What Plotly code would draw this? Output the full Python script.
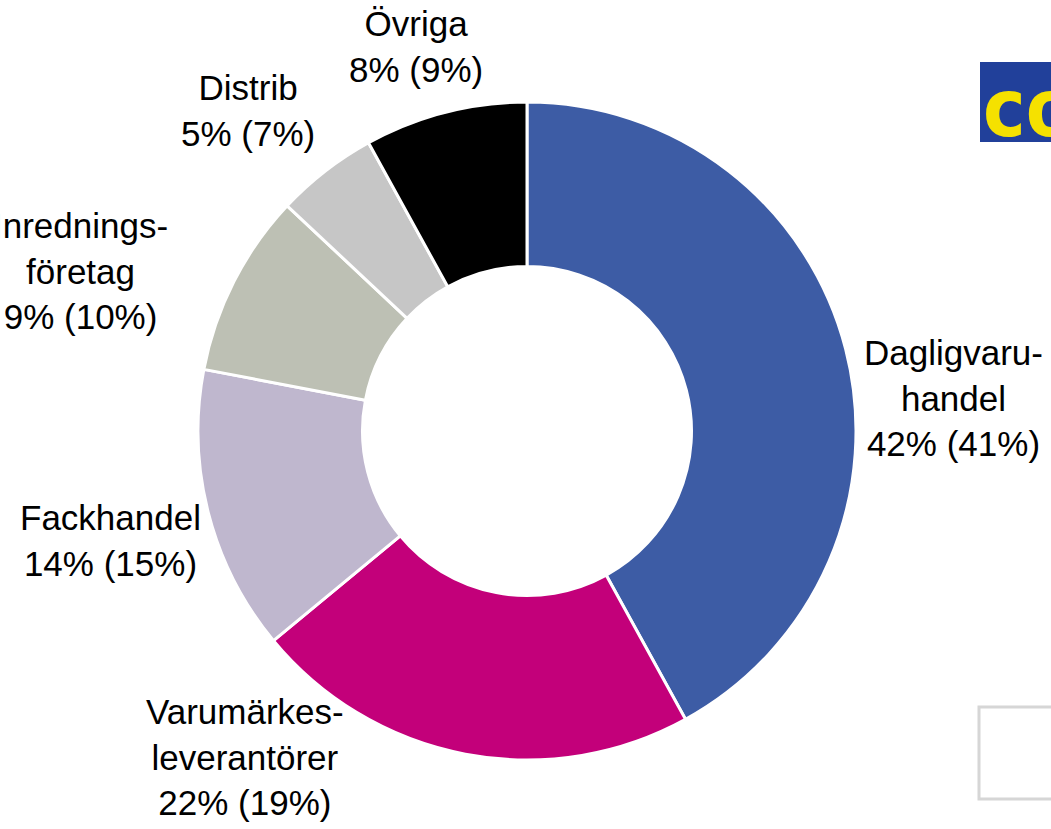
import plotly.graph_objects as go

W, H = 1051, 829

# segment data (share this year, share last year in parentheses)
labels = ["Dagligvaruhandel", "Varumärkesleverantörer", "Fackhandel",
          "Inredningsföretag", "Distrib", "Övriga"]
label_lines = [["Dagligvaru-", "handel"], ["Varumärkes-", "leverantörer"], ["Fackhandel"],
               ["Inrednings-", "företag"], ["Distrib"], ["Övriga"]]
share = [42, 22, 14, 9, 5, 8]
share_prev = [41, 19, 15, 10, 7, 9]
colors = ["#3D5CA5", "#C3007A", "#BFB7CE", "#BDC0B4", "#C6C6C6", "#000000"]

# label centres in pixels (layout only)
label_pos = [(953, 398), (245, 757), (110, 540), (80, 271), (248, 110), (416, 46)]

cx, cy, r = 527, 431, 329


def px_x(x):
    return x / W


def px_y(y):
    return 1 - y / H


fig = go.Figure(go.Pie(
    labels=labels,
    values=share,
    sort=False,
    direction="clockwise",
    rotation=0,
    hole=0.5,
    marker=dict(colors=colors, line=dict(color="white", width=3)),
    textinfo="none",
    hoverinfo="label+percent",
    showlegend=False,
    domain=dict(x=[px_x(cx - r), px_x(cx + r)], y=[px_y(cy + r), px_y(cy - r)]),
))

for i in range(len(labels)):
    txt = "<br>".join(label_lines[i] + ["%d%% (%d%%)" % (share[i], share_prev[i])])
    fig.add_annotation(
        x=px_x(label_pos[i][0]), y=px_y(label_pos[i][1]), xref="paper", yref="paper",
        text=txt, showarrow=False, xanchor="center", yanchor="middle", align="center",
        font=dict(family="Liberation Sans, Arial, sans-serif", size=35, color="black"),
    )

# logo piece at the top right
fig.add_shape(type="rect", xref="paper", yref="paper",
              x0=px_x(980), x1=px_x(1060), y0=px_y(142), y1=px_y(62),
              fillcolor="#21409A", line=dict(width=0), layer="above")
fig.add_annotation(x=px_x(981), y=px_y(108), xref="paper", yref="paper",
                   text="<b>coop</b>", showarrow=False, xanchor="left", yanchor="middle",
                   font=dict(family="DejaVu Sans Condensed, DejaVu Sans, sans-serif",
                             size=80, color="#F5E100"))
# empty box at the bottom right
fig.add_shape(type="rect", xref="paper", yref="paper",
              x0=px_x(979), x1=px_x(1070), y0=px_y(799), y1=px_y(707),
              fillcolor="white", line=dict(color="#D6D6D6", width=3))

fig.update_layout(
    width=W, height=H,
    margin=dict(l=0, r=0, t=0, b=0),
    paper_bgcolor="white", plot_bgcolor="white",
)

fig.write_html("out.html", config={"displayModeBar": False},
               post_script="document.body.style.margin='0';document.body.style.overflow='hidden';")
